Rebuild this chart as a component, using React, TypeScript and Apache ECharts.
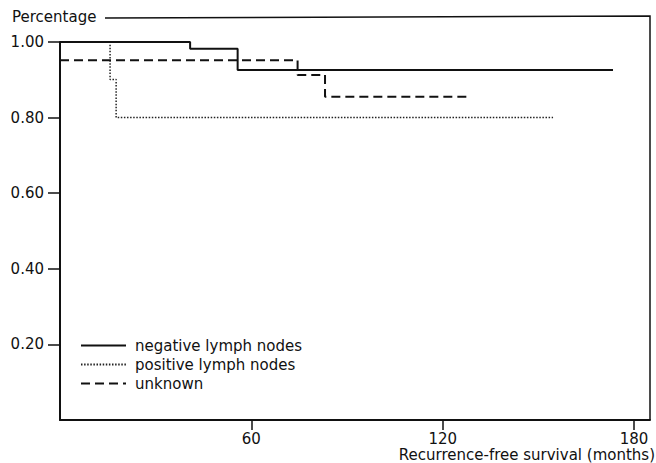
import React, { useEffect, useRef } from "react";
import * as echarts from "echarts";

// Kaplan–Meier step data (months, proportion surviving)
const negTimes = [0, 40.8, 55.7, 173.4];
const negSurv = [1.0, 0.982, 0.926, 0.926];
const posTimes = [0, 15.7, 17.6, 154.6];
const posSurv = [1.0, 0.901, 0.8, 0.8];
const unkTimes = [0, 74.5, 83.1, 127.5];
const unkSurv = [0.952, 0.913, 0.855, 0.855];

const seriesNames = ["negative lymph nodes", "positive lymph nodes", "unknown"];
const xTicks = [60, 120, 180];
const yTicks = [0.2, 0.4, 0.6, 0.8, 1.0];
const yTitle = "Percentage";
const xTitle = "Recurrence-free survival (months)";

const FONT = "DejaVu Sans";
const INK = "#111";
const FS = 15;

function pairs(xs: number[], ys: number[]) {
  return xs.map((x, i) => [x, ys[i]]);
}

export default function App() {
  const ref = useRef<HTMLDivElement>(null);
  useEffect(() => {
    if (!ref.current) return;
    const chart = echarts.init(ref.current, undefined, { renderer: "svg" });
    chart.setOption({
      animation: false,
      backgroundColor: "#fff",
      textStyle: { fontFamily: FONT, color: INK },
      grid: { left: 60, right: 6, top: 42, bottom: 43, containLabel: false },
      legend: {
        orient: "vertical",
        left: 80,
        top: 338,
        padding: 0,
        itemWidth: 45,
        itemHeight: 14,
        itemGap: 4,
        itemStyle: { opacity: 0 },
        data: seriesNames,
        textStyle: { fontFamily: FONT, fontSize: FS, color: INK, padding: [0, 0, 0, 4] },
      },
      xAxis: {
        type: "value",
        min: 0,
        max: 185,
        interval: 60,
        splitLine: { show: false },
        axisLine: { lineStyle: { color: INK, width: 2 } },
        axisTick: { length: 10, lineStyle: { color: INK, width: 1.5 }, customValues: xTicks },
        axisLabel: {
          customValues: xTicks,
          margin: 12,
          lineHeight: 13,
          fontFamily: FONT,
          fontSize: FS,
          color: INK,
          formatter: (v: number) => (xTicks.includes(v) ? String(v) : ""),
        },
      },
      yAxis: {
        type: "value",
        min: 0,
        max: 1.0,
        interval: 0.2,
        splitLine: { show: false },
        axisLine: { lineStyle: { color: INK, width: 2 } },
        axisTick: { length: 12, lineStyle: { color: INK, width: 1.5 }, customValues: yTicks },
        axisLabel: {
          customValues: yTicks,
          margin: 16,
          fontFamily: FONT,
          fontSize: FS,
          color: INK,
          formatter: (v: number) => (v > 0.001 ? v.toFixed(2) : ""),
        },
      },
      graphic: [
        {
          type: "polyline",
          shape: { points: [[105, 18], [650, 16], [650, 420]] },
          style: { stroke: INK, lineWidth: 1.5, fill: "none" },
        },
        {
          type: "text",
          x: 12,
          y: 17,
          style: { text: yTitle, fontFamily: FONT, fontSize: FS, fill: INK, textVerticalAlign: "middle", textAlign: "left" },
        },
        {
          type: "text",
          x: 655,
          y: 455,
          style: {
            text: xTitle,
            fontFamily: FONT,
            fontSize: FS,
            lineHeight: 13,
            fill: INK,
            textVerticalAlign: "middle",
            textAlign: "right",
          },
        },
      ],
      series: [
        {
          name: seriesNames[0],
          type: "line",
          step: "end",
          symbol: "none",
          clip: false,
          z: 4,
          data: pairs(negTimes, negSurv),
          lineStyle: { color: INK, width: 2, type: "solid" },
          itemStyle: { color: INK },
        },
        {
          name: seriesNames[1],
          type: "line",
          step: "end",
          symbol: "none",
          clip: false,
          z: 2,
          data: pairs(posTimes, posSurv),
          lineStyle: { color: "#222", width: 1.5, type: [1.5, 1.6] },
          itemStyle: { color: "#222" },
        },
        {
          name: seriesNames[2],
          type: "line",
          step: "end",
          symbol: "none",
          clip: false,
          z: 3,
          data: pairs(unkTimes, unkSurv),
          lineStyle: { color: INK, width: 2, type: [9, 5] },
          itemStyle: { color: INK },
        },
      ],
    });
    return () => chart.dispose();
  }, []);
  return (
    <div
      ref={ref}
      style={{ position: "absolute", left: 0, top: 0, width: 656, height: 463 }}
    />
  );
}
